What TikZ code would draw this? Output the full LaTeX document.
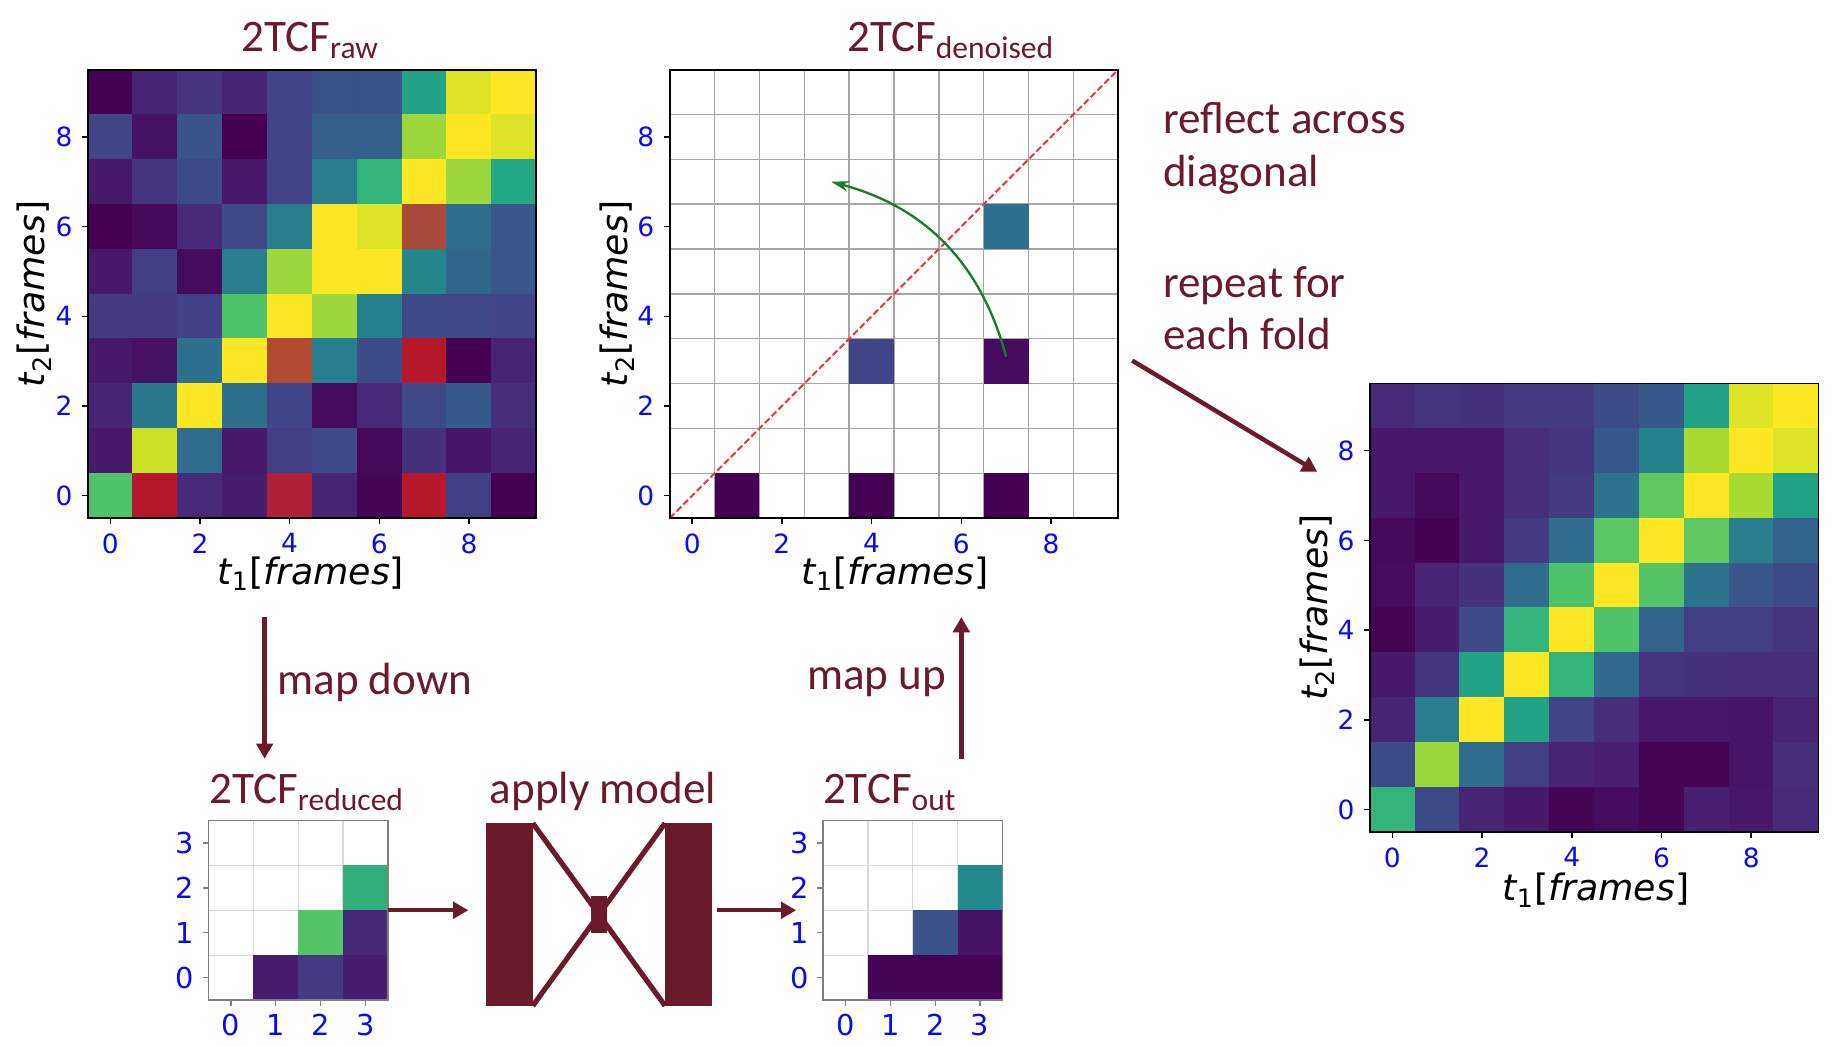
\documentclass[tikz,border=0pt]{standalone}
\usepackage{fontspec}
\setmainfont{Carlito}
\newfontfamily\plotfont{DejaVu Sans}
\usetikzlibrary{calc,arrows.meta}

\definecolor{wine}{HTML}{6B1A2B}
\definecolor{tickblue}{HTML}{0A0AF0}
\definecolor{arcgreen}{HTML}{1A7D2B}
\definecolor{diagred}{HTML}{F03848}
% viridis, one colour every 0.1
\definecolor{vir0}{HTML}{440154}
\definecolor{vir1}{HTML}{482475}
\definecolor{vir2}{HTML}{414487}
\definecolor{vir3}{HTML}{355F8D}
\definecolor{vir4}{HTML}{2A788E}
\definecolor{vir5}{HTML}{21918C}
\definecolor{vir6}{HTML}{22A884}
\definecolor{vir7}{HTML}{44BF70}
\definecolor{vir8}{HTML}{7AD151}
\definecolor{vir9}{HTML}{BDDF26}
\definecolor{vir10}{HTML}{FDE725}
% the odd cells of the raw data
\definecolor{vir101}{HTML}{B5172B}
\definecolor{vir102}{HTML}{A84A3A}
\definecolor{vir103}{HTML}{B04A30}
\definecolor{vir104}{HTML}{B01F35}

% cell size
\def\cw{38.3}

% value 0..100 -> colour cellc
\newcommand{\setcell}[1]{%
  \ifnum#1>100\relax
    \edef\tmpc{\noexpand\colorlet{cellc}{vir#1}}\tmpc
  \else
    \pgfmathtruncatemacro\vlo{#1/10}%
    \pgfmathtruncatemacro\vhi{min(\vlo+1,10)}%
    \pgfmathtruncatemacro\vpc{(#1-10*\vlo)*10}%
    \edef\tmpc{\noexpand\colorlet{cellc}{vir\vhi!\vpc!vir\vlo}}\tmpc
  \fi}

% 10x10 map, top row first
\newcommand{\heatrows}[2]{%
  \foreach \row [count=\j from 0] in {#2} {
    \foreach \v [count=\i from 0] in \row {
      \setcell{\v}
      \fill[cellc, draw=cellc, line width=0.2pt] ($(#1.south west)+({\i*\cw},{(9-\j)*\cw})$) rectangle ++(\cw,\cw);
    }
  }}

% ticks and tick labels
\newcommand{\plotticks}[4]{%
  \foreach \t in {#2} {
    \draw[#3, line width=0.6pt] ($(#1.south west)+({(\t+0.5)*\cw},0)$) -- ++(0,-5)
      node[#4, below] (#1-x\t) {\t};
    \draw[#3, line width=0.6pt] ($(#1.south west)+(0,{(\t+0.5)*\cw})$) -- ++(-5,0)
      node[#4, left] (#1-y\t) {\t};
  }}

\newcommand{\tlab}[1]{{\itshape t}\textsubscript{#1}[{\itshape frames}]}

\tikzset{
  bigplot/.style={minimum size=191.5pt, inner sep=0pt, outer sep=0pt},
  smallplot/.style={minimum size=76.6pt, inner sep=0pt, outer sep=0pt},
  frame/.style={draw=black, line width=0.8pt},
  smallframe/.style={draw=black!50, line width=0.6pt},
  gridline/.style={draw=black!35, line width=0.65pt},
  lightgrid/.style={draw=black!15, line width=0.5pt},
  title/.style={text=wine, font=\fontsize{19.25}{22.5}\selectfont, inner sep=0pt},
  note/.style={title, align=left},
  ticklabel/.style={text=tickblue, font=\plotfont\fontsize{11.3}{13}\selectfont, inner sep=3.8pt},
  smalltick/.style={ticklabel, font=\plotfont\fontsize{12.3}{14}\selectfont, inner sep=3.4pt},
  axlabel/.style={font=\plotfont\fontsize{15.5}{18}\selectfont, inner sep=0pt},
  flow/.style={draw=wine, line width=1.9pt, -{Triangle[length=6.5pt,width=7pt]}},
  block/.style={fill=wine, inner sep=0pt, outer sep=0pt}
}

\begin{document}
\begin{tikzpicture}[x=0.5pt, y=0.5pt]
\useasboundingbox (0,0) rectangle (1568,893);

% plot areas
\node[bigplot] (raw) at (266.5,642) {};
\node[bigplot] (den) at (763.5,642) {};
\node[bigplot] (fin) at (1361.5,374) {};
\node[smallplot] (red) at (254.6,115.6) {};
\node[smallplot] (out) at (779.6,115.6) {};

% raw 2TCF
\heatrows{raw}{{0,10,15,10,20,25,25,58,95,100},
  {20,5,25,0,20,30,30,85,100,95},
  {7,15,22,7,20,42,65,100,85,60},
  {0,2,12,22,42,100,95,102,35,27},
  {7,18,3,42,85,100,100,45,33,27},
  {17,17,19,72,100,85,43,22,21,20},
  {7,5,37,100,103,42,23,101,0,10},
  {10,40,100,37,20,3,12,22,28,13},
  {7,92,35,7,18,22,2,14,6,10},
  {72,101,12,8,104,10,1,101,18,0}}
\draw[frame] (raw.south west) rectangle (raw.north east);
\plotticks{raw}{0,2,4,6,8}{black}{ticklabel}
\node[title, anchor=base] (rawt) at (265,849) {2TCF\textsubscript{raw}};
\node[axlabel] (rawx) at (265.5,403) {\tlab{1}};
\node[axlabel, rotate=90] (rawy) at (29,642) {\tlab{2}};

% denoised 2TCF
\foreach \k in {1,...,9} {
  \draw[gridline] ($(den.south west)+(\k*\cw,0)$) -- ++(0,10*\cw);
  \draw[gridline] ($(den.south west)+(0,\k*\cw)$) -- ++(10*\cw,0);
}
\foreach \i/\j/\v in {1/0/0, 4/0/0, 7/0/0, 4/3/20, 7/3/3, 7/6/37} {
  \setcell{\v}
  \fill[cellc] ($(den.south west)+(\i*\cw,\j*\cw)$) rectangle ++(\cw,\cw);
}
\draw[diagred, dash pattern=on 2.8pt off 1.3pt, line width=0.9pt] (den.south west) -- (den.north east);
\coordinate (arc-from) at ($(den.south west)+(7.5*\cw,3.6*\cw)$);
\coordinate (arc-to) at ($(den.south west)+(3.6*\cw,7.5*\cw)$);
\draw[arcgreen, line width=1pt, -{Stealth[length=7.5pt,width=4.5pt]}] (arc-from) to[bend right=30] (arc-to);
\draw[frame] (den.south west) rectangle (den.north east);
\plotticks{den}{0,2,4,6,8}{black}{ticklabel}
\node[title, anchor=base] (dent) at (812,849) {2TCF\textsubscript{denoised}};
\node[axlabel] (denx) at (764.5,403) {\tlab{1}};
\node[axlabel, rotate=90] (deny) at (527,642) {\tlab{2}};

% notes
\node[note, anchor=north west] (reflect) at (993,806) {reflect across\\diagonal};
\node[note, anchor=north west] (repeat) at (993,666) {repeat for\\each fold};

% final 2TCF
\heatrows{fin}{{12,15,14,17,17,23,28,57,95,100},
  {7,7,7,13,15,28,43,87,100,95},
  {7,2,7,13,17,38,75,100,87,58},
  {2,0,7,17,35,74,100,75,42,32},
  {3,10,14,35,72,100,73,38,27,23},
  {1,8,22,65,100,72,32,18,18,15},
  {7,15,58,100,65,34,15,14,13,13},
  {10,42,100,58,20,13,7,7,6,10},
  {23,85,35,18,10,9,1,1,6,13},
  {65,22,10,7,1,3,1,9,7,12}}
\draw[frame] (fin.south west) rectangle (fin.north east);
\plotticks{fin}{0,2,4,6,8}{black}{ticklabel}
\node[axlabel] (finx) at (1363,133) {\tlab{1}};
\node[axlabel, rotate=90] (finy) at (1125,374) {\tlab{2}};

% reduced and output 2TCF
\foreach \k in {1,2,3} {
  \draw[lightgrid] ($(red.south west)+(\k*\cw,0)$) -- ++(0,4*\cw);
  \draw[lightgrid] ($(red.south west)+(0,\k*\cw)$) -- ++(4*\cw,0);
  \draw[lightgrid] ($(out.south west)+(\k*\cw,0)$) -- ++(0,4*\cw);
  \draw[lightgrid] ($(out.south west)+(0,\k*\cw)$) -- ++(4*\cw,0);
}
\foreach \i/\j/\v in {1/0/8, 2/0/17, 3/0/8, 2/1/73, 3/1/11, 3/2/64} {
  \setcell{\v}
  \fill[cellc] ($(red.south west)+(\i*\cw,\j*\cw)$) rectangle ++(\cw,\cw);
}
\foreach \i/\j/\v in {1/0/1, 2/0/1, 3/0/1, 2/1/25, 3/1/5, 3/2/47} {
  \setcell{\v}
  \fill[cellc] ($(out.south west)+(\i*\cw,\j*\cw)$) rectangle ++(\cw,\cw);
}
\draw[smallframe] (red.south west) rectangle (red.north east);
\draw[smallframe] (out.south west) rectangle (out.north east);
\plotticks{red}{0,1,2,3}{black!50}{smalltick}
\plotticks{out}{0,1,2,3}{black!50}{smalltick}
\node[title, anchor=base] (redt) at (262,207) {2TCF\textsubscript{reduced}};
\node[title, anchor=base] (outt) at (760,207) {2TCF\textsubscript{out}};

% model
\node[title, anchor=base] (applyt) at (515,207) {apply model};
\node[block, minimum width=20pt, minimum height=78pt] (encL) at (435,112) {};
\node[block, minimum width=20pt, minimum height=78pt] (encR) at (588,112) {};
\node[block, minimum width=7pt, minimum height=16pt] (neck) at (511.5,112) {};
\draw[wine, line width=2.2pt] (encL.north east) -- (encR.south west);
\draw[wine, line width=2.2pt] (encL.south east) -- (encR.north west);

% arrows
\coordinate (down-top) at (226,366);
\coordinate (down-bot) at (226,245);
\coordinate (up-bot) at (821,245);
\coordinate (up-top) at (821,366);
\coordinate (fold-from) at (967,585);
\coordinate (fold-to) at (1125,490);
\draw[flow] (down-top) -- node[title, right=4.5pt, yshift=2.5pt] (mapdown) {map down} (down-bot);
\draw[flow] (up-bot) -- node[title, left=5.5pt, yshift=2.5pt] (mapup) {map up} (up-top);
\draw[flow, shorten >=7.5pt] (red.east) -- (red.east -| encL.west);
\draw[flow, shorten <=2pt, shorten >=11.5pt] (encR.east |- out.west) -- (out.west);
\draw[flow] (fold-from) -- (fold-to);
\end{tikzpicture}
\end{document}
